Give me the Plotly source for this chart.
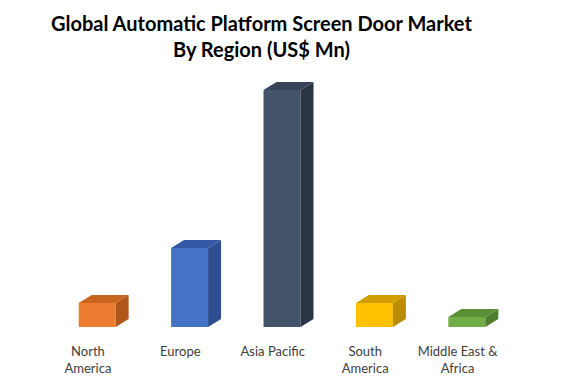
import plotly.graph_objects as go

# Data (estimated, US$ Mn)
regions = ["North<br>America", "Europe", "Asia Pacific", "South<br>America", "Middle East &<br>Africa"]
values = [240, 790, 2370, 240, 100]

front_colors = ["#ED7D31", "#4472C4", "#44546A", "#FFC000", "#70AD47"]
top_colors = ["#C9651F", "#3258A3", "#36435A", "#D19E00", "#5A8F37"]
side_colors = ["#B0561A", "#2D4F8F", "#2A3445", "#BB8D00", "#4E7F30"]

# geometry (style)
W, H = 576, 384
m_l, m_r, m_t, m_b = 14, 25.5, 80, 57
x_range = [-0.8, 5.0]
y_max = 2470
bar_w = 0.4
offset = 0.1
plot_h = H - m_t - m_b
px_per_x = (W - m_l - m_r) / (x_range[1] - x_range[0])
px_per_y = plot_h / y_max
dx = 13 / px_per_x
dy = 8 / px_per_y

fig = go.Figure()
xs = [i + offset for i in range(len(values))]
fig.add_trace(go.Bar(x=xs, y=values, width=bar_w,
                     marker=dict(color=front_colors, line=dict(width=0)),
                     showlegend=False, hoverinfo="skip"))

for xc, v, tc, sc in zip(xs, values, top_colors, side_colors):
    x0, x1 = xc - bar_w / 2, xc + bar_w / 2
    # side face
    fig.add_trace(go.Scatter(x=[x1, x1 + dx, x1 + dx, x1, x1],
                             y=[0, dy, v + dy, v, 0],
                             fill="toself", fillcolor=sc, mode="lines",
                             line=dict(width=0, color=sc), showlegend=False, hoverinfo="skip"))
    # top face
    fig.add_trace(go.Scatter(x=[x0, x1, x1 + dx, x0 + dx, x0],
                             y=[v, v, v + dy, v + dy, v],
                             fill="toself", fillcolor=tc, mode="lines",
                             line=dict(width=0, color=tc), showlegend=False, hoverinfo="skip"))

title_top_px = 9
fig.add_annotation(
    text="<b>Global Automatic Platform Screen Door Market<br>By Region (US$ Mn)</b>",
    xref="paper", yref="paper",
    x=(262 - m_l) / (W - m_l - m_r), y=(H - m_b - title_top_px) / plot_h,
    xanchor="center", yanchor="top", showarrow=False, align="center",
    font=dict(family="Lato", size=20, color="#000000"))

fig.update_layout(
    width=W, height=H,
    margin=dict(l=m_l, r=m_r, t=m_t, b=m_b, autoexpand=False),
    paper_bgcolor="white", plot_bgcolor="white",
    xaxis=dict(range=x_range, tickvals=list(range(len(regions))), ticktext=regions,
               showgrid=False, zeroline=False, showline=False, automargin=False,
               ticks="outside", ticklen=12, tickcolor="rgba(0,0,0,0)",
               tickfont=dict(family="Lato", size=13, color="#404040")),
    yaxis=dict(range=[0, y_max], visible=False),
)

fig.write_html("out.html")
